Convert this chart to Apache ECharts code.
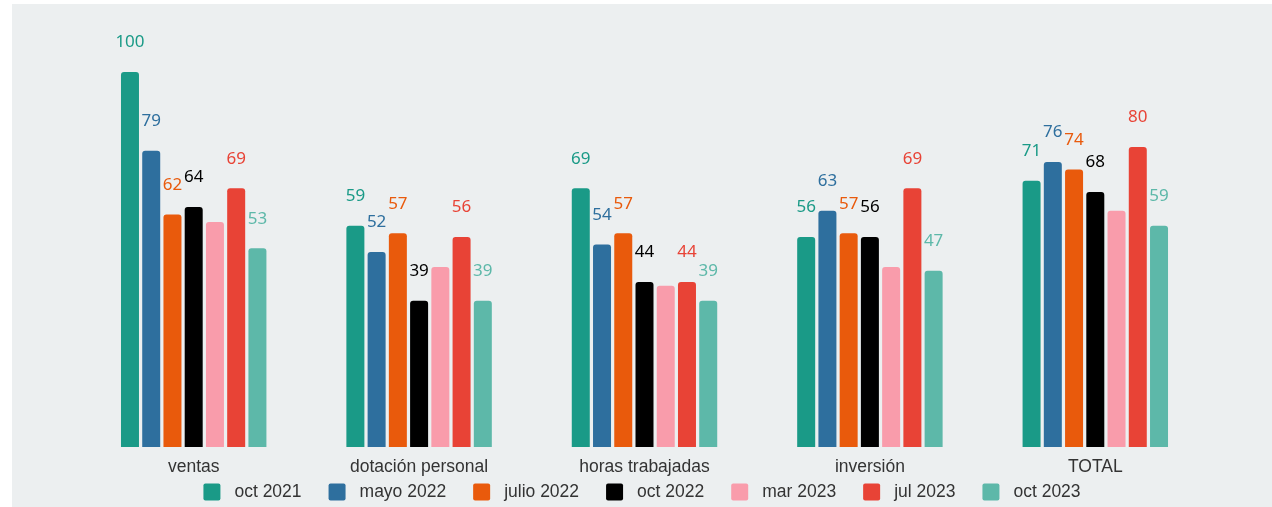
<!DOCTYPE html>
<html><head><meta charset="utf-8">
<script src="https://cdn.jsdelivr.net/npm/echarts@6/dist/echarts.min.js"></script>
<style>
html,body{margin:0;padding:0;background:#ffffff;width:1272px;height:507px;overflow:hidden;}
#c{position:absolute;left:12px;top:4px;width:1260px;height:503px;background:#ECEFF0;}
</style></head>
<body><div id="c"></div>
<script>
const categories = ["ventas", "dotación personal", "horas trabajadas", "inversión", "TOTAL"];
const seriesNames = ["oct 2021", "mayo 2022", "julio 2022", "oct 2022", "mar 2023", "jul 2023", "oct 2023"];
const oct2021 = [100, 59, 69, 56, 71];
const mayo2022 = [79, 52, 54, 63, 76];
const julio2022 = [62, 57, 57, 57, 74];
const oct2022 = [64, 39, 44, 56, 68];
const mar2023 = [60, 48, 43, 48, 63];
const jul2023 = [69, 56, 44, 69, 80];
const oct2023 = [53, 39, 39, 47, 59];
const colors = ["#1A9A87", "#2E6F9E", "#E95A0C", "#000000", "#F99CAB", "#E84336", "#5DB8A9"];
const showLabel = [true, true, true, true, false, true, true];
const values = [oct2021, mayo2022, julio2022, oct2022, mar2023, jul2023, oct2023];

const chart = echarts.init(document.getElementById('c'), null, {renderer: 'canvas'});
const labelFont = '"Noto Sans", "DejaVu Sans", sans-serif';
const textFont = '"Liberation Sans", Arial, sans-serif';
chart.setOption({
  backgroundColor: '#ECEFF0',
  animation: false,
  textStyle: {fontFamily: textFont},
  grid: {left: 69, right: 64, top: 68, bottom: 60, containLabel: false},
  legend: {
    bottom: 1, left: 'center',
    itemWidth: 17, itemHeight: 17, itemGap: 27,
    icon: 'path://M2,0 L15,0 Q17,0 17,2 L17,15 Q17,17 15,17 L2,17 Q0,17 0,15 L0,2 Q0,0 2,0 Z',
    textStyle: {fontSize: 17.5, color: '#333333', fontFamily: textFont, padding: [0, 0, 0, 9]},
    data: seriesNames
  },
  xAxis: {
    type: 'category', data: categories,
    axisLine: {show: false}, axisTick: {show: false},
    axisLabel: {fontSize: 17.5, color: '#333333', margin: 11, fontFamily: textFont}
  },
  yAxis: {type: 'value', min: 0, max: 100, show: false, splitLine: {show: false}},
  series: seriesNames.map((n, i) => ({
    name: n, type: 'bar', data: values[i],
    barWidth: 18, barGap: '18%',
    itemStyle: {color: colors[i], borderRadius: [3, 3, 0, 0]},
    label: {show: showLabel[i], position: 'top', distance: 21, color: colors[i], fontSize: 17, fontFamily: labelFont}
  }))
});
</script></body></html>
